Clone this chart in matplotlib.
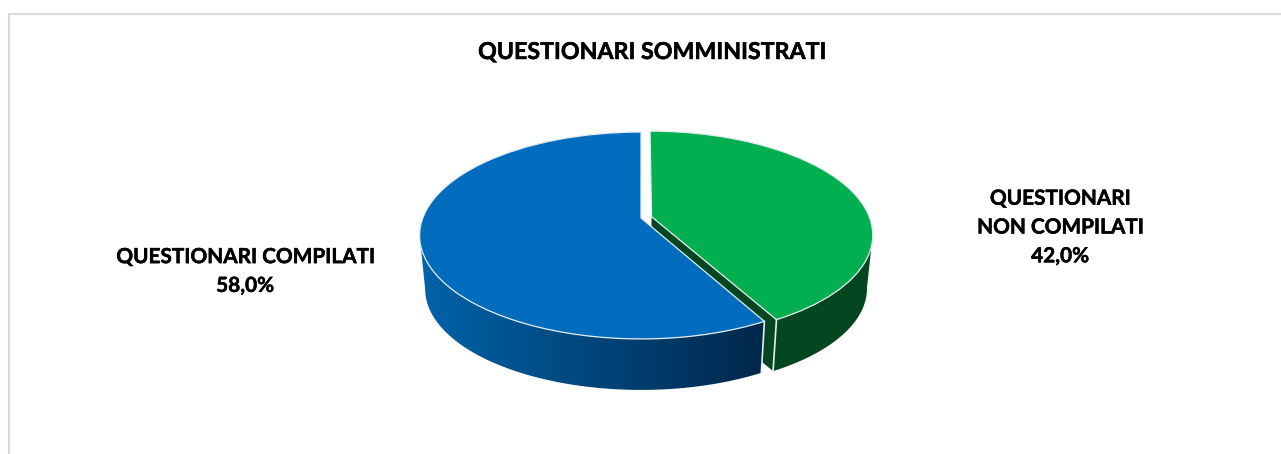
import matplotlib
matplotlib.use("Agg")
import matplotlib.patheffects as pe
import matplotlib.pyplot as plt
import numpy as np
from matplotlib.colors import LinearSegmentedColormap
from matplotlib.patches import Polygon
from matplotlib.transforms import Transform

plt.rcParams['font.family'] = ['Lato', 'DejaVu Sans']

title = 'QUESTIONARI SOMMINISTRATI'
categories = ['QUESTIONARI\nNON COMPILATI', 'QUESTIONARI COMPILATI']
values = [42.0, 58.0]
explode = [0.05, 0.0]

# picture geometry in pixels
W, H = 1281, 454
APEX_X, APEX_Y = 641.0, 218.0
SX, SY, K = 218.2, 100.5, 0.169
DEPTH, SHRINK = 54.0, 0.975

top_colors = ['#00AF50', '#006CBE']
edge = '#e6ecef'


def project(x, y, bottom=False):
    # pie circle (unit coords) to pixels, with a bit of perspective
    w = 1 + K * y
    px = SX * x / w
    py = -SY * y / w
    if bottom:
        px = px * SHRINK
        py = py * SHRINK + DEPTH
    return APEX_X + px, APEX_Y + py


class PiePerspective(Transform):
    input_dims = 2
    output_dims = 2

    def transform_non_affine(self, values):
        xy = np.asarray(values, dtype=float)
        px, py = project(xy[:, 0], xy[:, 1])
        return np.column_stack([px, py])


def unit_arc(a0, a1, offset=(0, 0), n=120):
    # angles are clockwise from 12 o'clock, in degrees
    a = np.radians(np.linspace(a0, a1, n))
    return np.sin(a) + offset[0], np.cos(a) + offset[1]


def wall(a0, a1, offset=(0, 0)):
    x, y = unit_arc(a0, a1, offset)
    tx, ty = project(x, y)
    bx, by = project(x, y, bottom=True)
    return np.column_stack([np.r_[tx, bx[::-1]], np.r_[ty, by[::-1]]])


fig = plt.figure(figsize=(W / 100, H / 100), dpi=100)
ax = fig.add_axes([0, 0, 1, 1])

angles = np.cumsum([0] + values) / sum(values) * 360
tip = angles[1]
mid = np.radians((angles[0] + angles[1]) / 2)
green_off = (explode[0] * np.sin(mid), explode[0] * np.cos(mid))
# where the ellipse is widest, the walls end there
side = np.degrees(np.arcsin(K))

# green cut face, seen through the gap
ox, oy = green_off
gx, gy = unit_arc(tip, tip, green_off, n=1)
bx, by = unit_arc(tip, tip, n=1)
cut = [project(ox, oy), project(gx[0], gy[0]), project(gx[0], gy[0], bottom=True), project(ox, oy, bottom=True)]
ax.add_patch(Polygon(cut, closed=True, fc='#03461f', ec='none', zorder=1))

# green outer wall
ax.add_patch(Polygon(wall(90 + side, tip, green_off), closed=True, fc='#03461f', ec='none', zorder=1))

# blue outer wall, shaded left to right
blue_wall = Polygon(wall(tip, 270 - side), closed=True, fc='none', ec='none', zorder=2)
ax.add_patch(blue_wall)
shade = LinearSegmentedColormap.from_list('shade', ['#0063aa', '#004f8a', '#003c6c', '#00264a'])
im = ax.imshow(np.linspace(0, 1, 256).reshape(1, -1), cmap=shade, aspect='auto',
               extent=(420, 765, 395, 230), zorder=2)
im.set_clip_path(blue_wall)

# top faces
wedges, _ = ax.pie(values, explode=explode, colors=top_colors, startangle=90, counterclock=False,
                   wedgeprops={'edgecolor': edge, 'linewidth': 0.9})
persp = PiePerspective() + ax.transData
for w in wedges:
    w.set_transform(persp)
    w.set_zorder(3)

# light lines on the front corners
for x, y in [(gx[0], gy[0]), (bx[0], by[0])]:
    p0 = project(x, y)
    p1 = project(x, y, bottom=True)
    ax.plot([p0[0], p1[0]], [p0[1], p1[1]], color=edge, lw=1.2, zorder=4)

# chart frame, open at right and bottom
ax.plot([9, 9, W], [H, 14, 14], color='#d9d9d9', lw=1.5, zorder=0)

# Lato bold is a little lighter than the original face
heavier = [pe.withStroke(linewidth=0.35, foreground='black')]
ax.text(652, 52.5, title, ha='center', va='center', fontsize=16.7, fontweight='bold', color='black',
        path_effects=heavier)
ax.text(245, 271.5, f'{categories[1]}\n{values[1]:.1f}%'.replace('.', ','), ha='center', va='center',
        fontsize=14.95, fontweight='bold', color='black', linespacing=1.55, path_effects=heavier)
ax.text(1060, 227.5, f'{categories[0]}\n{values[0]:.1f}%'.replace('.', ','), ha='center', va='center',
        fontsize=14.95, fontweight='bold', color='black', linespacing=1.55, path_effects=heavier)

ax.set_aspect('auto')
ax.set_xlim(0, W)
ax.set_ylim(H, 0)
ax.axis('off')

fig.savefig('out.png', dpi=100, facecolor='white')
